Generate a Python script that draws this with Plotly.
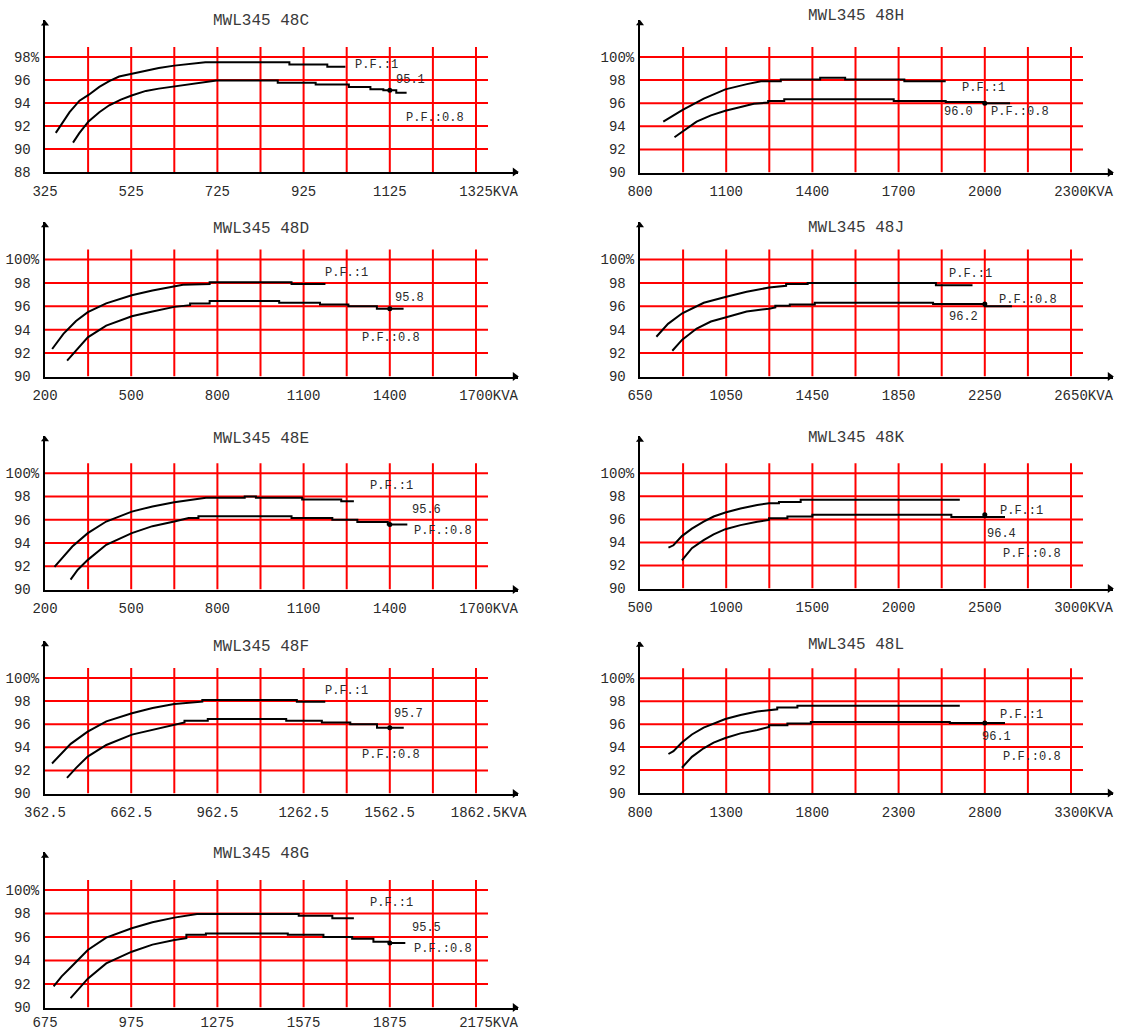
import plotly.graph_objects as go

# ---------------------------------------------------------------------------
# Efficiency curves of MWL345 48x units (P.F. = 1 and P.F. = 0.8)
# ---------------------------------------------------------------------------
TITLES = ["MWL345 48C", "MWL345 48H", "MWL345 48D", "MWL345 48J", "MWL345 48E",
          "MWL345 48K", "MWL345 48F", "MWL345 48L", "MWL345 48G"]

# x-axis tick labels (KVA) for each panel
C_TICKS = [325, 525, 725, 925, 1125, 1325]
H_TICKS = [800, 1100, 1400, 1700, 2000, 2300]
D_TICKS = [200, 500, 800, 1100, 1400, 1700]
J_TICKS = [650, 1050, 1450, 1850, 2250, 2650]
E_TICKS = [200, 500, 800, 1100, 1400, 1700]
K_TICKS = [500, 1000, 1500, 2000, 2500, 3000]
F_TICKS = [362.5, 662.5, 962.5, 1262.5, 1562.5, 1862.5]
L_TICKS = [800, 1300, 1800, 2300, 2800, 3300]
G_TICKS = [675, 975, 1275, 1575, 1875, 2175]

# y-axis tick labels (efficiency %)
EFF_TICKS_C = [88, 90, 92, 94, 96, 98]
EFF_TICKS = [90, 92, 94, 96, 98, 100]

# rated point shown on each P.F.=0.8 curve
RATED_KVA = [1125, 2000, 1400, 2250, 1400, 2500, 1562.5, 2800, 1875]
RATED_EFF = [95.1, 96.0, 95.8, 96.2, 95.6, 96.4, 95.7, 96.1, 95.5]

# 48C
C_PF1_KVA = [350, 359, 382, 405, 426, 451, 474, 497, 526, 559, 589, 625, 658, 697,
             892, 892, 980, 980, 1022]
C_PF1_EFF = [91.4, 91.9, 93.2, 94.2, 94.7, 95.4, 95.9, 96.3, 96.55, 96.85, 97.05, 97.25,
             97.4, 97.55, 97.55, 97.35, 97.35, 97.15, 97.15]
C_PF08_KVA = [390, 405, 426, 451, 474, 501, 526, 559, 589, 625, 658, 689, 723, 865, 865,
              953, 953, 1030, 1030, 1080, 1080, 1110, 1110, 1140, 1140, 1164]
C_PF08_EFF = [90.55, 91.4, 92.4, 93.2, 93.8, 94.3, 94.65, 95.05, 95.25, 95.45, 95.6, 95.75,
              95.95, 95.95, 95.75, 95.75, 95.6, 95.6, 95.4, 95.4, 95.2, 95.2, 95.1, 95.1,
              94.9, 94.9]
# 48H
H_PF1_KVA = [881, 947, 1022, 1097, 1172, 1221, 1290, 1290, 1427, 1427, 1514, 1514, 1720,
             1720, 1864]
H_PF1_EFF = [94.4, 95.4, 96.4, 97.2, 97.65, 97.9, 97.9, 98.05, 98.05, 98.2, 98.2, 98.05,
             98.05, 97.9, 97.9]
H_PF08_KVA = [920, 947, 997, 1047, 1097, 1147, 1196, 1246, 1246, 1302, 1302, 1683, 1683,
              1864, 1864, 2000, 2000, 2088]
H_PF08_EFF = [93.05, 93.55, 94.4, 94.95, 95.35, 95.65, 95.95, 96.05, 96.2, 96.2, 96.35,
              96.35, 96.2, 96.2, 96.1, 96.1, 96.0, 96.0]
# 48D
D_PF1_KVA = [225, 264, 308, 349, 413, 502, 574, 650, 680, 773, 773, 1058, 1058, 1176]
D_PF1_EFF = [92.35, 93.65, 94.75, 95.5, 96.25, 96.95, 97.35, 97.7, 97.85, 97.9, 98.05,
             98.05, 97.9, 97.9]
D_PF08_KVA = [277, 308, 349, 413, 502, 574, 650, 705, 705, 773, 773, 1015, 1015, 1157,
              1157, 1256, 1256, 1355, 1355, 1448]
D_PF08_EFF = [91.35, 92.25, 93.35, 94.35, 95.15, 95.55, 95.95, 96.1, 96.25, 96.25, 96.45,
              96.45, 96.3, 96.3, 96.15, 96.15, 96.0, 96.0, 95.8, 95.8]
# 48J
J_PF1_KVA = [726, 780, 846, 946, 1046, 1145, 1249, 1328, 1328, 1428, 1428, 2023, 2023, 2193]
J_PF1_EFF = [93.4, 94.5, 95.4, 96.3, 96.8, 97.25, 97.6, 97.75, 97.9, 97.9, 98.0, 98.0,
             97.8, 97.8]
J_PF08_KVA = [800, 846, 913, 979, 1046, 1145, 1249, 1278, 1278, 1345, 1345, 1461, 1461,
              2010, 2010, 2250, 2250, 2376]
J_PF08_EFF = [92.2, 93.15, 94.1, 94.7, 95.05, 95.55, 95.8, 95.9, 96.05, 96.05, 96.15,
              96.15, 96.3, 96.3, 96.2, 96.2, 96.0, 96.0]
# 48E
E_PF1_KVA = [233, 264, 295, 349, 413, 502, 574, 650, 723, 760, 895, 895, 934, 934, 1095,
             1095, 1231, 1231, 1275]
E_PF1_EFF = [91.95, 92.85, 93.7, 94.85, 95.85, 96.7, 97.15, 97.5, 97.8, 97.9, 97.9, 98.0,
             98.0, 97.9, 97.9, 97.75, 97.75, 97.6, 97.6]
E_PF08_KVA = [289, 314, 349, 413, 502, 574, 650, 686, 700, 734, 734, 1058, 1058, 1200,
              1200, 1287, 1287, 1393, 1393, 1461]
E_PF08_EFF = [90.85, 91.7, 92.55, 93.85, 94.85, 95.45, 95.85, 96.05, 96.15, 96.15, 96.3,
              96.3, 96.15, 96.15, 96.0, 96.0, 95.8, 95.8, 95.6, 95.6]
# 48K
K_PF1_KVA = [665, 694, 743, 801, 869, 927, 995, 1083, 1180, 1248, 1306, 1306, 1432, 1432,
             2355]
K_PF1_EFF = [93.55, 93.75, 94.55, 95.2, 95.8, 96.25, 96.6, 96.95, 97.25, 97.4, 97.4, 97.5,
             97.5, 97.7, 97.7]
K_PF08_KVA = [743, 801, 869, 927, 995, 1083, 1180, 1248, 1248, 1355, 1355, 1500, 1500,
              2306, 2306, 2617]
K_PF08_EFF = [92.45, 93.5, 94.2, 94.7, 95.15, 95.5, 95.8, 95.95, 96.1, 96.1, 96.25, 96.25,
              96.4, 96.4, 96.2, 96.2]
# 48F
F_PF1_KVA = [387, 421, 452, 511, 576, 665, 737, 812, 910, 910, 1239, 1239, 1338]
F_PF1_EFF = [92.6, 93.5, 94.3, 95.35, 96.25, 96.95, 97.4, 97.75, 97.95, 98.1, 98.1, 97.95,
             97.95]
F_PF08_KVA = [439, 470, 511, 576, 665, 737, 812, 848, 848, 929, 929, 1202, 1202, 1326,
              1326, 1425, 1425, 1518, 1518, 1611]
F_PF08_EFF = [91.35, 92.2, 93.2, 94.2, 95.1, 95.5, 95.95, 96.15, 96.3, 96.3, 96.45, 96.45,
              96.3, 96.3, 96.15, 96.15, 96.0, 96.0, 95.7, 95.7]
# 48L
L_PF1_KVA = [965, 994, 1043, 1101, 1169, 1227, 1295, 1383, 1480, 1596, 1596, 1713, 1713,
             2655]
L_PF1_EFF = [93.4, 93.65, 94.4, 95.1, 95.7, 96.05, 96.45, 96.8, 97.1, 97.3, 97.45, 97.45,
             97.6, 97.6]
L_PF08_KVA = [1043, 1101, 1169, 1227, 1295, 1383, 1480, 1548, 1548, 1655, 1655, 1791, 1791,
              2597, 2597, 2917]
L_PF08_EFF = [92.2, 93.15, 93.9, 94.4, 94.8, 95.2, 95.5, 95.75, 95.9, 95.9, 96.05, 96.05,
              96.2, 96.2, 96.1, 96.1]
# 48G
G_PF1_KVA = [705, 733, 764, 824, 888, 977, 1049, 1125, 1204, 1558, 1558, 1675, 1675, 1750]
G_PF1_EFF = [91.8, 92.65, 93.4, 94.9, 95.95, 96.75, 97.25, 97.65, 97.95, 97.95, 97.8, 97.8,
             97.6, 97.6]
G_PF08_KVA = [764, 789, 824, 888, 977, 1049, 1125, 1167, 1167, 1235, 1235, 1520, 1520,
              1644, 1644, 1744, 1744, 1818, 1818, 1875, 1875, 1929]
G_PF08_EFF = [90.8, 91.5, 92.45, 93.75, 94.75, 95.35, 95.75, 95.9, 96.2, 96.2, 96.3, 96.3,
              96.2, 96.2, 96.0, 96.0, 95.85, 95.85, 95.6, 95.6, 95.5, 95.5]

PANEL_DATA = [
    (C_TICKS, EFF_TICKS_C, C_PF1_KVA, C_PF1_EFF, C_PF08_KVA, C_PF08_EFF),
    (H_TICKS, EFF_TICKS, H_PF1_KVA, H_PF1_EFF, H_PF08_KVA, H_PF08_EFF),
    (D_TICKS, EFF_TICKS, D_PF1_KVA, D_PF1_EFF, D_PF08_KVA, D_PF08_EFF),
    (J_TICKS, EFF_TICKS, J_PF1_KVA, J_PF1_EFF, J_PF08_KVA, J_PF08_EFF),
    (E_TICKS, EFF_TICKS, E_PF1_KVA, E_PF1_EFF, E_PF08_KVA, E_PF08_EFF),
    (K_TICKS, EFF_TICKS, K_PF1_KVA, K_PF1_EFF, K_PF08_KVA, K_PF08_EFF),
    (F_TICKS, EFF_TICKS, F_PF1_KVA, F_PF1_EFF, F_PF08_KVA, F_PF08_EFF),
    (L_TICKS, EFF_TICKS, L_PF1_KVA, L_PF1_EFF, L_PF08_KVA, L_PF08_EFF),
    (G_TICKS, EFF_TICKS, G_PF1_KVA, G_PF1_EFF, G_PF08_KVA, G_PF08_EFF),
]

# ---------------------------------------------------------------------------
# Layout: page geometry in pixels and annotation anchors in data units
# ---------------------------------------------------------------------------
W, H = 1121, 1031
# (x of y-axis, y of x-axis, y of top gridline, y of title, x-label gap) in page pixels
PANEL_BOX = [
    (45, 172.0, 57.0, 21.5, 5), (640, 172.5, 57.0, 16.5, 5),
    (45, 376.5, 259.5, 229.0, 5), (640, 376.5, 259.5, 228.0, 5),
    (45, 589.5, 473.3, 439.0, 5), (640, 588.5, 473.3, 438.0, 5),
    (45, 793.5, 678.0, 646.5, 5), (640, 793.0, 678.3, 645.0, 5),
    (45, 1007.5, 890.0, 854.0, 1),
]
STEP_PX = 43.1        # pixels per vertical grid interval
X_SPAN = 10.98        # x-axis length in grid intervals (to the arrow)
Y_SPAN = 13.2         # y-axis height in percent (to the arrow)

# (P.F.:1 label, value label, P.F.:0.8 label) anchors
LABEL_POS = [
    ((1095, 97.3), (1173, 96.0), (1230, 92.7)),
    ((1994, 97.3), (1907, 95.2), (2122, 95.2)),
    ((1250, 98.85), (1467, 96.7), (1405, 93.3)),
    ((2184, 98.75), (2151, 95.1), (2450, 96.5)),
    ((1405, 98.9), (1529, 96.85), (1584, 95.0)),
    ((2714, 96.75), (2598, 94.7), (2774, 93.0)),
    ((1412, 98.9), (1629, 96.85), (1567, 93.35)),
    ((3011, 96.8), (2869, 94.85), (3074, 93.1)),
    ((1880, 98.9), (2004, 96.8), (2060, 95.0)),
]

FONT = "Liberation Mono, Courier New, monospace"
RED = "#ff0000"
INK = "#000000"
TEXT = "#2a2a2a"


def x_tick_text(vals):
    out = [f"{v:g}" for v in vals]
    suffix = "KVA"
    out[-1] = "\u00a0" * len(suffix) + out[-1] + suffix
    return out


def y_tick_text(vals):
    return [f"{v:g}%" if k == len(vals) - 1 else f"{v:g}\u00a0" for k, v in enumerate(vals)]


fig = go.Figure()
layout = dict(
    template="none",
    width=W, height=H, margin=dict(l=0, r=0, t=0, b=0, pad=0, autoexpand=False),
    paper_bgcolor="white", plot_bgcolor="white", showlegend=False,
)
shapes, annotations = [], []

for i, (xt, yt, k1, e1, k8, e8) in enumerate(PANEL_DATA):
    n = i + 1
    xa = "x" if n == 1 else f"x{n}"
    ya = "y" if n == 1 else f"y{n}"
    ax_px, ay_px, top_px, title_px, label_gap = PANEL_BOX[i]
    x0, step = xt[0], (xt[1] - xt[0]) / 2
    ymin = yt[0]
    px_per_pct = (ay_px - top_px) / (yt[-1] - yt[0])

    layout["xaxis" if n == 1 else f"xaxis{n}"] = dict(
        domain=[ax_px / W, (ax_px + X_SPAN * STEP_PX) / W],
        range=[x0, x0 + X_SPAN * step], anchor=ya, automargin=False,
        showgrid=False, zeroline=False, showline=True, linecolor=INK, linewidth=2,
        ticks="", tickvals=xt, ticktext=x_tick_text(xt), ticklabelstandoff=label_gap,
        tickfont=dict(family=FONT, size=14, color=TEXT), fixedrange=True,
    )
    layout["yaxis" if n == 1 else f"yaxis{n}"] = dict(
        domain=[1 - ay_px / H, 1 - (ay_px - Y_SPAN * px_per_pct) / H],
        range=[ymin, ymin + Y_SPAN], anchor=xa, automargin=False,
        showgrid=False, zeroline=False, showline=True, linecolor=INK, linewidth=2,
        ticks="", tickvals=yt, ticktext=y_tick_text(yt), ticklabelstandoff=1,
        tickfont=dict(family=FONT, size=14, color=TEXT), fixedrange=True,
    )

    # red grid: verticals rise 10 px above the top line, horizontals run 12 px past the last vertical
    v_top = yt[-1] + 10 / px_per_pct
    h_end = x0 + 10 * step + 12 / STEP_PX * step
    for kk in range(1, 11):
        xv = x0 + kk * step
        shapes.append(dict(type="line", xref=xa, yref=ya, x0=xv, x1=xv, y0=ymin, y1=v_top,
                           line=dict(color=RED, width=2), layer="below"))
    for yv in yt[1:]:
        shapes.append(dict(type="line", xref=xa, yref=ya, x0=x0, x1=h_end, y0=yv, y1=yv,
                           line=dict(color=RED, width=2), layer="below"))

    # efficiency curves
    for kva, eff in ((k1, e1), (k8, e8)):
        fig.add_trace(go.Scatter(x=kva, y=eff, mode="lines", xaxis=xa, yaxis=ya,
                                 line=dict(color=INK, width=2), hoverinfo="skip"))
    fig.add_trace(go.Scatter(x=[RATED_KVA[i]], y=[RATED_EFF[i]], mode="markers",
                             xaxis=xa, yaxis=ya, marker=dict(color=INK, size=5),
                             hoverinfo="skip"))

    # axis arrow heads
    fig.add_trace(go.Scatter(x=[x0 + (X_SPAN - 0.08) * step], y=[ymin], mode="markers",
                             xaxis=xa, yaxis=ya, cliponaxis=False, hoverinfo="skip",
                             marker=dict(symbol="triangle-right", size=8, color=INK)))
    fig.add_trace(go.Scatter(x=[x0], y=[ymin + Y_SPAN - 0.3], mode="markers",
                             xaxis=xa, yaxis=ya, cliponaxis=False, hoverinfo="skip",
                             marker=dict(symbol="triangle-up", size=7, color=INK)))

    # panel title, centred over the middle gridline
    annotations.append(dict(text=TITLES[i], xref="paper", yref="paper",
                            x=(ax_px + 5 * STEP_PX) / W, y=1 - title_px / H,
                            xanchor="center", yanchor="middle", showarrow=False,
                            font=dict(family=FONT, size=16, color="#3a3a3a")))
    # curve labels
    (p1x, p1y), (vx, vy), (p8x, p8y) = LABEL_POS[i]
    for txt, lx, ly in (("P.F.:1", p1x, p1y), (f"{RATED_EFF[i]:.1f}", vx, vy),
                        ("P.F.:0.8", p8x, p8y)):
        annotations.append(dict(text=txt, xref=xa, yref=ya, x=lx, y=ly, showarrow=False,
                                font=dict(family=FONT, size=12, color=TEXT)))

layout["shapes"] = shapes
layout["annotations"] = annotations
fig.update_layout(**layout)
fig.write_html("out.html")
